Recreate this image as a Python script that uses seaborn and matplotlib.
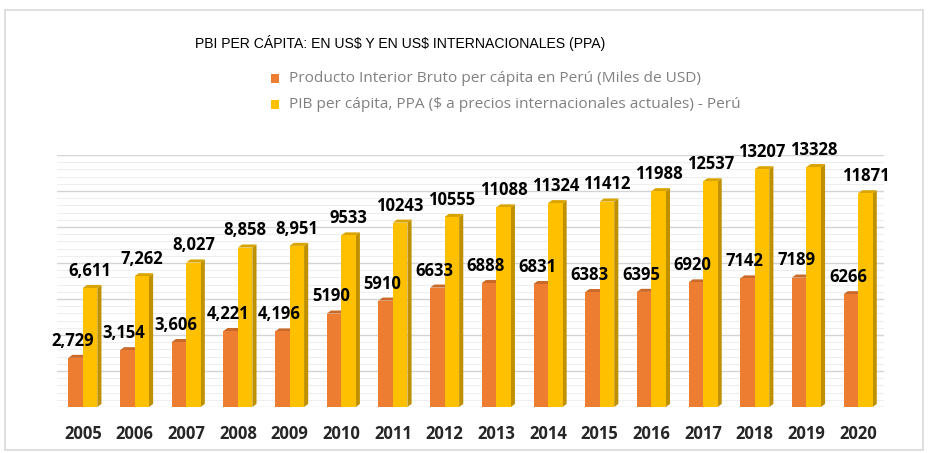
import pandas as pd
import numpy as np
import matplotlib.pyplot as plt
import seaborn as sns
from matplotlib.patches import Polygon, Rectangle
from matplotlib.ticker import MultipleLocator
from matplotlib.colors import to_rgb

# data
years = ['2005', '2006', '2007', '2008', '2009', '2010', '2011', '2012',
         '2013', '2014', '2015', '2016', '2017', '2018', '2019', '2020']
pbi_usd = [2729, 3154, 3606, 4221, 4196, 5190, 5910, 6633,
           6888, 6831, 6383, 6395, 6920, 7142, 7189, 6266]
pbi_ppa = [6611, 7262, 8027, 8858, 8951, 9533, 10243, 10555,
           11088, 11324, 11412, 11988, 12537, 13207, 13328, 11871]
lbl_usd = ['2,729', '3,154', '3,606', '4,221', '4,196', '5190', '5910', '6633',
           '6888', '6831', '6383', '6395', '6920', '7142', '7189', '6266']
lbl_ppa = ['6,611', '7,262', '8,027', '8,858', '8,951', '9533', '10243', '10555',
           '11088', '11324', '11412', '11988', '12537', '13207', '13328', '11871']
series = ['Producto Interior Bruto per cápita en Perú (Miles de USD)',
          'PIB per cápita, PPA ($ a precios internacionales actuales) - Perú']
colors = ['#ED7D31', '#FFC000']

df = pd.DataFrame({
    'Año': years * 2,
    'Valor': pbi_usd + pbi_ppa,
    'Serie': [series[0]] * len(years) + [series[1]] * len(years),
})

sns.set_style('white')
plt.rcParams['font.family'] = ['Open Sans', 'DejaVu Sans']

fig = plt.figure(figsize=(9.3, 4.53), dpi=100)
ax = fig.add_axes([57 / 930, 1 - 407 / 453, 827 / 930, 252 / 453])

sns.barplot(data=df, x='Año', y='Valor', hue='Serie', palette=colors,
            width=0.56, saturation=1, ax=ax, legend=False, zorder=3)

# fake 3D depth (side + top faces) from the bar patches
dx, dy = 0.08, 170
def shade(c, f):
    r, g, b = to_rgb(c)
    return (r * f, g * f, b * f)

bars = [p for p in ax.patches if p.get_height() > 0]
for p in bars:
    x, w, h = p.get_x(), p.get_width(), p.get_height()
    c = p.get_facecolor()
    p.set_edgecolor('none')
    side = Polygon([(x + w, 0), (x + w + dx, dy), (x + w + dx, h + dy), (x + w, h)],
                   closed=True, facecolor=shade(c, 0.75), edgecolor='none', zorder=2)
    top = Polygon([(x, h), (x + dx, h + dy), (x + w + dx, h + dy), (x + w, h)],
                  closed=True, facecolor=shade(c, 0.85), edgecolor='none', zorder=2)
    ax.add_patch(side)
    ax.add_patch(top)

# value labels
n = len(years)
for i, p in enumerate(bars):
    lab = lbl_usd[i] if i < n else lbl_ppa[i - n]
    xc = p.get_x() + p.get_width() / 2
    xc = xc - 0.06 if i < n else xc
    ax.text(xc, p.get_height() + 450, lab, ha='center', va='bottom',
            fontsize=12, fontweight='bold', color='black', zorder=5)

ax.set_ylim(0, 14000)
ax.set_xlim(-0.5, 15.5)
ax.yaxis.set_major_locator(MultipleLocator(2000))
ax.yaxis.set_minor_locator(MultipleLocator(400))
ax.grid(axis='y', which='major', color='#d4d4d4', linewidth=1.0, zorder=0)
ax.grid(axis='y', which='minor', color='#eeeeee', linewidth=0.8, zorder=0)
ax.set_axisbelow(True)
for s in ax.spines.values():
    s.set_visible(False)
ax.set_yticklabels([])
ax.tick_params(axis='y', which='both', length=0)
ax.tick_params(axis='x', length=0, pad=13)
for t in ax.get_xticklabels():
    t.set_fontweight('bold')
    t.set_fontsize(12)
ax.set_xlabel('')
ax.set_ylabel('')

# title and legend
fig.text(195 / 930, 1 - 43 / 453, 'PBI PER CÁPITA: EN US$ Y EN US$ INTERNACIONALES (PPA)',
         fontsize=10.1, va='center', ha='left', color='black', parse_math=False,
         family=['Liberation Sans Narrow', 'Liberation Sans', 'DejaVu Sans'])
for k, (name, col) in enumerate(zip(series, colors)):
    yy = 1 - (78 + 26 * k) / 453
    fig.patches.append(Rectangle((271 / 930, yy - 4.5 / 453), 8 / 930, 9 / 453,
                                 transform=fig.transFigure, facecolor=col,
                                 edgecolor='none', figure=fig))
    fig.text(289 / 930, yy, name, fontsize=11.1, color='#808080', va='center',
             ha='left', parse_math=False)

# chart border
fig.patches.append(Rectangle((5 / 930, 3 / 453), 918 / 930, 440 / 453,
                             transform=fig.transFigure, facecolor='none',
                             edgecolor='#d9d9d9', linewidth=1.2, figure=fig))

fig.savefig('out.png', dpi=100)
